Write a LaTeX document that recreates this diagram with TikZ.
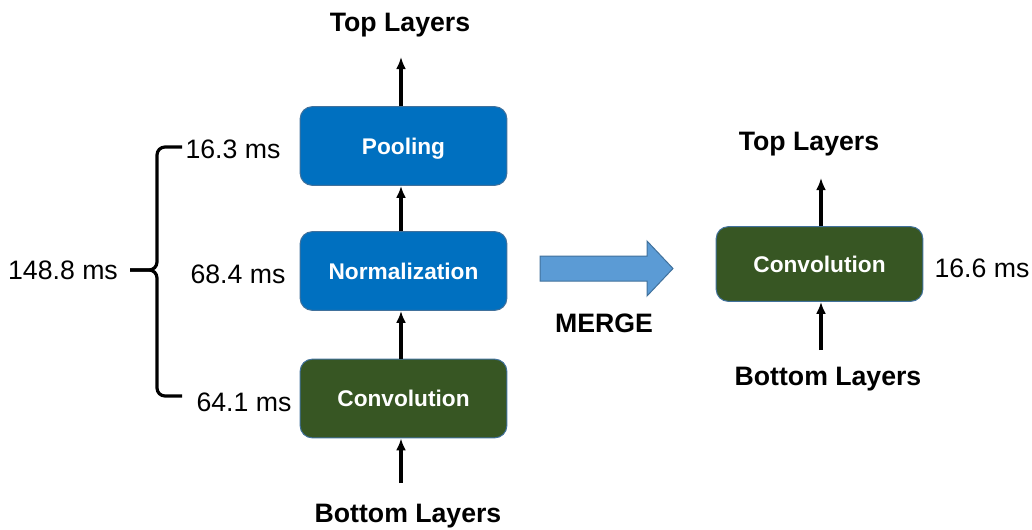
\documentclass[tikz,border=0pt]{standalone}
\usepackage{fontspec}
\setmainfont{Liberation Sans}
\usetikzlibrary{arrows.meta}
\definecolor{layerblue}{HTML}{0070C0}
\definecolor{layergreen}{HTML}{375623}
\definecolor{layeredge}{HTML}{41719C}
\definecolor{mergeblue}{HTML}{5B9BD5}
\tikzset{
	layer/.style={draw=layeredge, line width=0.75pt, rounded corners=9pt, text=white,
		minimum width=155pt, minimum height=59pt, text height=12pt, text depth=0pt,
		font=\fontsize{17}{20}\selectfont\bfseries},
	head/.style={font=\fontsize{20}{24}\selectfont\bfseries, text height=14.3pt, text depth=0pt},
	timing/.style={font=\fontsize{20}{24}\selectfont, text height=14.3pt, text depth=0pt},
	flow/.style={->, line width=2.4pt},
	bracket/.style={line width=2.4pt, rounded corners=6pt}
}

\begin{document}
\begin{tikzpicture}[x=0.75pt, y=-0.75pt, >={Latex[length=9pt,width=7.5pt]}]
		\useasboundingbox (0,0) rectangle (1032,529);
		%\draw[help lines] (0,0) grid (1032,529);
		
		% left column
		\node[layer, fill=layerblue] (pool) at (403.5,146) {Pooling};
		\node[layer, fill=layerblue] (norm) at (403.5,271) {Normalization};
		\node[layer, fill=layergreen] (conv) at (403.5,398.5) {Convolution};
		\node[head] (top) at (400,22) {Top Layers};
		\node[head] (bottom) at (408,513) {Bottom Layers};
		\coordinate (topend) at (401,57);
		\coordinate (bottomstart) at (401,483);
		
		\draw[flow] (pool.north -| topend) -- (topend);
		\draw[flow] (norm.north -| topend) -- (pool.south -| topend);
		\draw[flow] (conv.north -| topend) -- (norm.south -| topend);
		\draw[flow] (bottomstart) -- (conv.south -| bottomstart);
		
		% timings + brace
		\node[timing] (tpool) at (233,149) {16.3 ms};
		\node[timing] (tnorm) at (238,274) {68.4 ms};
		\node[timing] (tconv) at (244,402) {64.1 ms};
		\node[timing] (ttotal) at (63,270) {148.8 ms};
		\coordinate (bracetop) at (182,147);
		\coordinate (bracebot) at (182,396);
		\coordinate (bracetip) at (130,270);
		\draw[bracket] (bracetop) -- (157,147) -- (157,270) -- (bracetip);%upper half
		\draw[bracket] (bracebot) -- (157,396) -- (157,270) -- (bracetip);%lower half
		
		% merge arrow
		\draw[fill=mergeblue, draw=layeredge, line width=0.75pt] (540,256) -- (647,256) -- (647,241)
			-- (673,268.5) -- (647,296) -- (647,281) -- (540,281) -- cycle;
		\node[head] (merge) at (604,323) {MERGE};
		
		% right column
		\node[layer, fill=layergreen, minimum height=56pt] (rconv) at (819.5,264) {Convolution};
		\node[head] (rtop) at (809,141) {Top Layers};
		\node[head] (rbottom) at (828,376) {Bottom Layers};
		\node[timing] (trconv) at (982,268) {16.6 ms};
		\coordinate (rtopend) at (821,178);
		\coordinate (rbottomstart) at (821,350);
		
		\draw[flow] (rconv.north -| rtopend) -- (rtopend);
		\draw[flow] (rbottomstart) -- (rconv.south -| rbottomstart);
\end{tikzpicture}
\end{document}
